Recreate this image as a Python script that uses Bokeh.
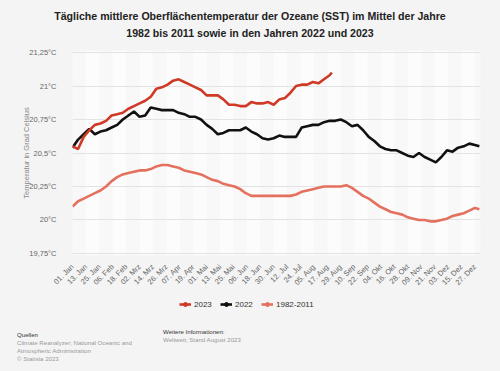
import math
from bokeh.plotting import figure
from bokeh.layouts import column
from bokeh.models import (FixedTicker, Legend, LegendItem, Range1d, Div)
from bokeh.embed import file_html
from bokeh.resources import INLINE

# ---------------- data ----------------
days = [0, 5, 10, 15, 20, 25, 30, 35, 40, 45, 50, 55, 60, 65, 70, 75, 80, 85, 90, 95,
        100, 105, 110, 115, 120, 125, 130, 135, 140, 145, 150, 155, 160, 165, 170, 175,
        180, 185, 190, 195, 200, 205, 210, 215, 220, 225, 230, 235, 240, 245, 250, 255,
        260, 265, 270, 275, 280, 285, 290, 295, 300, 305, 310, 315, 320, 325, 330, 335,
        340, 345, 350, 355, 360, 364]

avg_1982_2011 = [20.10, 20.14, 20.16, 20.18, 20.20, 20.22, 20.25, 20.29, 20.32, 20.34,
                 20.35, 20.36, 20.37, 20.37, 20.38, 20.40, 20.41, 20.41, 20.40, 20.39,
                 20.37, 20.36, 20.35, 20.34, 20.32, 20.30, 20.29, 20.27, 20.26, 20.25,
                 20.23, 20.20, 20.18, 20.18, 20.18, 20.18, 20.18, 20.18, 20.18, 20.18,
                 20.19, 20.21, 20.22, 20.23, 20.24, 20.25, 20.25, 20.25, 20.25, 20.26,
                 20.24, 20.21, 20.18, 20.16, 20.13, 20.10, 20.08, 20.06, 20.05, 20.04,
                 20.02, 20.01, 20.00, 20.00, 19.99, 19.99, 20.00, 20.01, 20.03, 20.04,
                 20.05, 20.07, 20.09, 20.08]

y2022 = [20.54, 20.60, 20.64, 20.68, 20.64, 20.66, 20.67, 20.69, 20.71, 20.75,
         20.78, 20.81, 20.77, 20.78, 20.84, 20.83, 20.82, 20.82, 20.82, 20.80,
         20.79, 20.77, 20.77, 20.75, 20.71, 20.68, 20.64, 20.65, 20.67, 20.67,
         20.67, 20.69, 20.66, 20.64, 20.61, 20.60, 20.61, 20.63, 20.62, 20.62,
         20.62, 20.69, 20.70, 20.71, 20.71, 20.73, 20.74, 20.74, 20.75, 20.73,
         20.70, 20.71, 20.67, 20.62, 20.59, 20.55, 20.53, 20.52, 20.52, 20.50,
         20.48, 20.47, 20.50, 20.47, 20.45, 20.43, 20.47, 20.52, 20.51, 20.54,
         20.55, 20.57, 20.56, 20.55]

days_2023 = [0, 5, 10, 15, 20, 25, 30, 35, 40, 45, 50, 55, 60, 65, 70, 75, 80, 85, 90,
             95, 100, 105, 110, 115, 120, 125, 130, 135, 140, 145, 150, 155, 160, 165,
             170, 175, 180, 185, 190, 195, 200, 205, 210, 215, 220, 225, 230, 232]
y2023 = [20.55, 20.53, 20.62, 20.67, 20.71, 20.72, 20.74, 20.78, 20.79, 20.80,
         20.83, 20.85, 20.87, 20.89, 20.92, 20.98, 20.99, 21.01, 21.04, 21.05,
         21.03, 21.01, 20.99, 20.97, 20.93, 20.93, 20.93, 20.90, 20.86, 20.86,
         20.85, 20.85, 20.88, 20.87, 20.87, 20.88, 20.86, 20.90, 20.91, 20.95,
         21.00, 21.01, 21.01, 21.03, 21.02, 21.05, 21.08, 21.10]

tick_days = list(range(0, 361, 12))
tick_labels = ["01. Jan", "13. Jan", "25. Jan", "06. Feb", "18. Feb", "02. Mrz",
               "14. Mrz", "26. Mrz", "07. Apr", "19. Apr", "01. Mai", "13. Mai",
               "25. Mai", "06. Jun", "18. Jun", "30. Jun", "12. Jul", "24. Jul",
               "05. Aug", "17. Aug", "29. Aug", "10. Sep", "22. Sep", "04. Okt",
               "16. Okt", "28. Okt", "09. Nov", "21. Nov", "03. Dez", "15. Dez",
               "27. Dez"]
y_ticks = [19.75, 20.0, 20.25, 20.5, 20.75, 21.0, 21.25]
y_tick_labels = ["19,75°C", "20°C", "20,25°C", "20,5°C", "20,75°C", "21°C", "21,25°C"]

series_names = ["2023", "2022", "1982-2011"]
colors = ["#cf3a26", "#111111", "#e4705e"]

title_lines = ["Tägliche mittlere Oberflächentemperatur der Ozeane (SST) im Mittel der Jahre",
               "1982 bis 2011 sowie in den Jahren 2022 und 2023"]
source_head = "Quellen"
source_lines = ["Climate Reanalyzer; National Oceanic and", "Atmospheric Administration",
                "© Statista 2023"]
info_head = "Weitere Informationen:"
info_lines = ["Weltweit; Stand August 2023"]

FONT = "Liberation Sans"
BG = "#f4f4f4"
W = 500

# ---------------- title ----------------
title_div = Div(
    text="<div style='width:500px;padding-top:8px;text-align:center;"
         "font-family:\"Liberation Sans\";font-weight:bold;font-size:10.6px;"
         "line-height:16.6px;color:#222;'>" + "<br>".join(title_lines) + "</div>",
    width=W, height=44, margin=(0, 0, 0, 0),
    styles={"background-color": BG})

# ---------------- main figure ----------------
p = figure(width=W, height=251, output_backend="svg", toolbar_location=None,
           x_range=Range1d(0, 365), y_range=Range1d(19.735, 21.265),
           min_border_left=72, min_border_right=20, min_border_top=6,
           min_border_bottom=40, margin=(0, 0, 0, 0))
p.background_fill_color = "#f8f8f8"
p.border_fill_color = BG
p.outline_line_color = None

p.xgrid.ticker = FixedTicker(ticks=tick_days)
p.xgrid.grid_line_color = None
p.xgrid.band_fill_color = "#ffffff"
p.xgrid.band_fill_alpha = 0.5
p.ygrid.ticker = FixedTicker(ticks=y_ticks)
p.ygrid.grid_line_color = "#e3e3e3"
p.ygrid.grid_line_width = 1

p.xaxis.ticker = FixedTicker(ticks=tick_days)
p.xaxis.major_label_overrides = {d: l for d, l in zip(tick_days, tick_labels)}
p.xaxis.major_label_orientation = math.pi / 4
p.xaxis.axis_line_color = None
p.xaxis.major_tick_line_color = None
p.xaxis.minor_tick_line_color = None
p.xaxis.major_label_text_font = FONT
p.xaxis.major_label_text_font_size = "7.5px"
p.xaxis.major_label_text_color = "#666666"
p.xaxis.major_label_standoff = 4

p.yaxis.ticker = FixedTicker(ticks=y_ticks)
p.yaxis.major_label_overrides = {t: l for t, l in zip(y_ticks, y_tick_labels)}
p.yaxis.axis_line_color = None
p.yaxis.major_tick_line_color = None
p.yaxis.minor_tick_line_color = None
p.yaxis.major_label_text_font = FONT
p.yaxis.major_label_text_font_size = "7.5px"
p.yaxis.major_label_text_color = "#666666"
p.yaxis.major_label_standoff = 10
p.yaxis.axis_label = "Temperatur in Grad Celsius"
p.yaxis.axis_label_text_font = FONT
p.yaxis.axis_label_text_font_size = "7.5px"
p.yaxis.axis_label_text_font_style = "normal"
p.yaxis.axis_label_text_color = "#888888"
p.yaxis.axis_label_standoff = -5

p.line(days, avg_1982_2011, line_color=colors[2], line_width=2.6)
p.line(days, y2022, line_color=colors[1], line_width=2.6)
p.line(days_2023, y2023, line_color=colors[0], line_width=2.6)

# ---------------- legend strip ----------------
# (frames in a column are aligned, so this frame starts at the same x as the chart)
lf = figure(width=W, height=20, output_backend="svg", toolbar_location=None,
            x_range=Range1d(1000, 1001), y_range=Range1d(1000, 1001),
            min_border=0, margin=(0, 0, 0, 0))
lf.background_fill_color = BG
lf.border_fill_color = BG
lf.outline_line_color = None
lf.axis.visible = False
lf.grid.visible = False

items = []
for name, col, xs, ys in zip(series_names, colors,
                             [days_2023, days, days], [y2023, y2022, avg_1982_2011]):
    rl = lf.line(xs, ys, line_color=col, line_width=2.6)
    rs = lf.scatter(xs, ys, marker="circle", size=7, fill_color=col, line_color=col)
    items.append(LegendItem(label=name, renderers=[rl, rs]))

legend = Legend(items=items, orientation="horizontal", location=(107, 6),
                background_fill_alpha=0, border_line_color=None,
                glyph_width=12, glyph_height=10, label_standoff=3, spacing=8,
                padding=0, margin=0, label_width=18,
                label_text_font=FONT, label_text_font_size="8px",
                label_text_color="#333333", label_height=10)
lf.add_layout(legend, "center")

# ---------------- footer ----------------
def block(left, top, head, lines):
    return (f"<div style='position:absolute;left:{left}px;top:{top}px;"
            "font-family:\"Liberation Sans\";font-size:6.1px;line-height:8px;'>"
            f"<div style='color:#333;'>{head}</div>"
            + "".join(f"<div style='color:#999;'>{l}</div>" for l in lines) + "</div>")

footer_div = Div(
    text="<div style='position:relative;width:500px;height:56px;'>"
         + block(17, 16, source_head, source_lines)
         + block(163, 13, info_head, info_lines) + "</div>",
    width=W, height=56, margin=(0, 0, 0, 0),
    styles={"background-color": BG})

layout = column(title_div, p, lf, footer_div, spacing=0, margin=(0, 0, 0, 0),
                styles={"background-color": BG})

open("out.html", "w").write(file_html(layout, INLINE))
